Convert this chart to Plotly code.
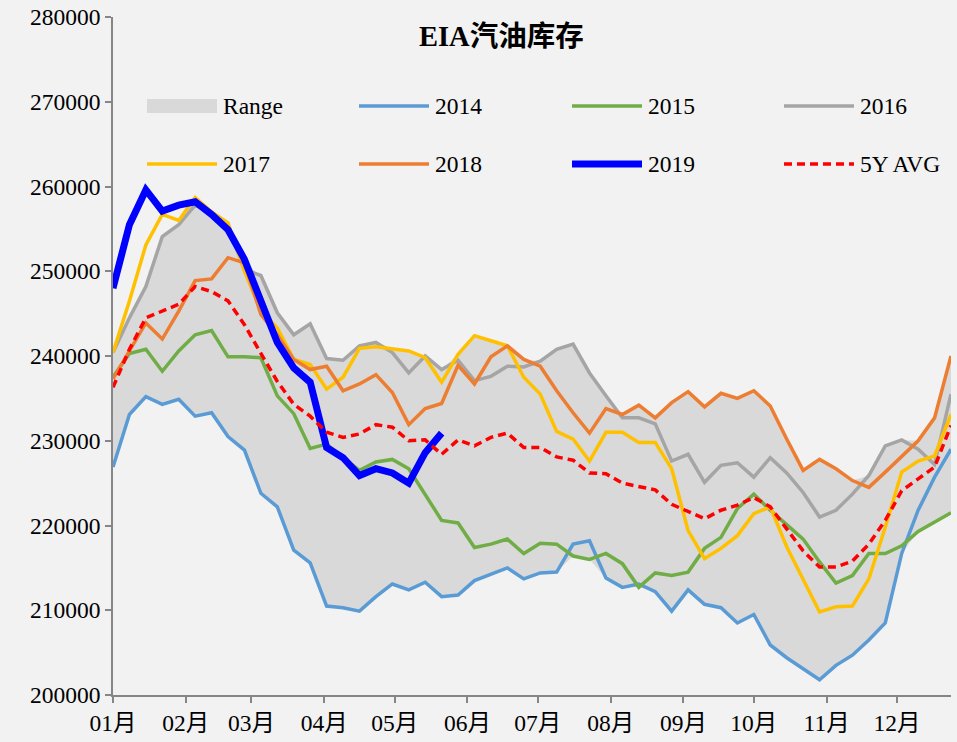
import plotly.graph_objects as go

week_dates = [
    "2019-01-01", "2019-01-08", "2019-01-15", "2019-01-22", "2019-01-29",
    "2019-02-05", "2019-02-12", "2019-02-19", "2019-02-26",
    "2019-03-05", "2019-03-12", "2019-03-19", "2019-03-26",
    "2019-04-02", "2019-04-09", "2019-04-16", "2019-04-23", "2019-04-30",
    "2019-05-07", "2019-05-14", "2019-05-21", "2019-05-28",
    "2019-06-04", "2019-06-11", "2019-06-18", "2019-06-25",
    "2019-07-02", "2019-07-09", "2019-07-16", "2019-07-23", "2019-07-30",
    "2019-08-06", "2019-08-13", "2019-08-20", "2019-08-27",
    "2019-09-03", "2019-09-10", "2019-09-17", "2019-09-24",
    "2019-10-01", "2019-10-08", "2019-10-15", "2019-10-22", "2019-10-29",
    "2019-11-05", "2019-11-12", "2019-11-19", "2019-11-26",
    "2019-12-03", "2019-12-10", "2019-12-17", "2019-12-24",
]

y2014 = [226.9, 233.1, 235.2, 234.3, 234.9, 232.9, 233.3, 230.5, 228.9, 223.8,
         222.2, 217.1, 215.6, 210.5, 210.3, 209.9, 211.6, 213.1, 212.4, 213.3,
         211.6, 211.8, 213.5, 214.3, 215.0, 213.7, 214.4, 214.5, 217.8, 218.2,
         213.8, 212.7, 213.1, 212.2, 209.9, 212.4, 210.7, 210.3, 208.5, 209.5,
         205.9, 204.4, 203.1, 201.8, 203.5, 204.7, 206.5, 208.5, 216.7, 221.8,
         225.7, 229.0]
y2015 = [237.5, 240.3, 240.8, 238.2, 240.6, 242.5, 243.0, 239.9, 239.9, 239.8,
         235.3, 233.2, 229.1, 229.6, 228.0, 226.5, 227.5, 227.8, 226.7, 223.7,
         220.6, 220.3, 217.4, 217.8, 218.4, 216.7, 217.9, 217.8, 216.4, 216.0,
         216.7, 215.5, 212.7, 214.4, 214.1, 214.5, 217.3, 218.6, 222.0, 223.7,
         221.8, 220.1, 218.4, 215.7, 213.2, 214.1, 216.7, 216.7, 217.6, 219.3,
         220.4, 221.5]
y2016 = [240.4, 244.5, 248.2, 254.1, 255.5, 257.8, 256.9, 255.3, 250.2, 249.5,
         245.1, 242.5, 243.8, 239.7, 239.5, 241.2, 241.6, 240.4, 238.0, 240.0,
         238.4, 239.5, 237.1, 237.6, 238.8, 238.7, 239.4, 240.8, 241.4, 238.0,
         235.3, 232.7, 232.7, 232.0, 227.6, 228.4, 225.1, 227.1, 227.4, 225.7,
         228.0, 226.2, 223.9, 221.0, 221.8, 223.7, 225.9, 229.4, 230.1, 229.0,
         227.2, 235.5]
y2017 = [240.4, 246.5, 253.1, 256.7, 256.0, 258.7, 257.0, 255.7, 250.0, 245.3,
         243.3, 239.6, 239.0, 236.1, 237.5, 240.9, 241.1, 240.9, 240.6, 239.8,
         236.9, 240.2, 242.4, 241.8, 241.2, 237.5, 235.5, 231.1, 230.2, 227.6,
         231.0, 231.0, 229.8, 229.8, 226.7, 219.4, 216.1, 217.3, 218.8, 221.4,
         222.2, 217.5, 213.7, 209.8, 210.4, 210.5, 213.7, 219.8, 226.3, 227.6,
         228.2, 233.1]
y2018 = [237.3, 240.6, 243.9, 242.0, 245.3, 248.9, 249.1, 251.6, 251.0, 244.9,
         242.5, 239.6, 238.4, 238.8, 235.9, 236.7, 237.8, 235.7, 231.9, 233.8,
         234.4, 238.9, 236.7, 239.9, 241.2, 239.6, 238.8, 235.9, 233.3, 230.9,
         233.8, 233.1, 234.2, 232.7, 234.5, 235.8, 234.0, 235.6, 235.0, 235.9,
         234.1, 230.2, 226.5, 227.8, 226.7, 225.3, 224.5, 226.3, 228.2, 230.0,
         232.7, 240.0]
y2019 = [248.0, 255.5, 259.6, 257.1, 257.8, 258.2, 256.7, 254.9, 251.4, 246.3,
         241.6, 238.6, 236.9, 229.2, 228.0, 225.9, 226.7, 226.2, 225.0, 228.6,
         230.9]
avg5y = [236.3, 240.8, 244.5, 245.3, 246.1, 248.2, 247.6, 246.5, 243.7, 240.3,
         237.0, 234.3, 232.9, 231.0, 230.4, 230.8, 231.9, 231.6, 230.0, 230.1,
         228.4, 230.1, 229.4, 230.4, 230.9, 229.2, 229.2, 228.1, 227.7, 226.2,
         226.1, 225.0, 224.6, 224.2, 222.5, 221.7, 220.8, 221.8, 222.4, 223.3,
         222.2, 219.6, 217.0, 215.1, 215.1, 215.8, 217.8, 220.6, 224.1, 225.5,
         226.9, 231.8]
range_low = [226.9, 233.1, 235.2, 234.3, 234.9, 232.9, 233.3, 230.5, 228.9, 223.8,
             222.2, 217.1, 215.6, 210.5, 210.3, 209.9, 211.6, 213.1, 212.4, 213.3,
             211.6, 211.8, 213.5, 214.3, 215.0, 213.7, 214.4, 214.5, 216.4, 216.0,
             213.8, 212.7, 212.7, 212.2, 209.9, 212.4, 210.7, 210.3, 208.5, 209.5,
             205.9, 204.4, 203.1, 201.8, 203.5, 204.7, 206.5, 208.5, 216.7, 219.3,
             220.4, 221.5]
range_high = [240.4, 244.5, 248.2, 254.1, 255.5, 258.7, 257.0, 255.7, 251.0, 249.5,
              245.1, 242.5, 243.8, 239.7, 239.5, 241.2, 241.6, 240.9, 240.6, 240.0,
              238.4, 240.2, 242.4, 241.8, 241.2, 239.6, 239.4, 240.8, 241.4, 238.0,
              235.3, 233.1, 234.2, 232.7, 234.5, 235.8, 234.0, 235.6, 235.0, 235.9,
              234.1, 230.2, 226.5, 227.8, 226.7, 225.3, 225.9, 229.4, 230.1, 230.0,
              232.7, 240.0]

y_ticks = [200000, 210000, 220000, 230000, 240000, 250000, 260000, 270000, 280000]


def k(vals):
    return [v * 1000 for v in vals]


SERIF = "Liberation Serif, Times New Roman, Noto Sans CJK SC, serif"

fig = go.Figure()
fig.add_trace(go.Scatter(x=week_dates, y=k(range_low), mode="lines",
                         line=dict(width=0, color="rgba(0,0,0,0)"),
                         showlegend=False, hoverinfo="skip"))
fig.add_trace(go.Scatter(x=week_dates, y=k(range_high), mode="lines", name="Range",
                         line=dict(width=0, color="#d9d9d9"),
                         fill="tonexty", fillcolor="#d9d9d9"))

series = [
    ("2014", y2014, "#5B9BD5", 3.5, "solid"),
    ("2015", y2015, "#70AD47", 3.5, "solid"),
    ("2016", y2016, "#A5A5A5", 3.5, "solid"),
    ("2017", y2017, "#FFC000", 3.5, "solid"),
    ("2018", y2018, "#ED7D31", 3.5, "solid"),
    ("2019", y2019, "#0000FF", 7, "solid"),
    ("5Y AVG", avg5y, "#FF0000", 3.5, "8px,5px"),
]
for name, vals, color, width, dash in series:
    fig.add_trace(go.Scatter(x=week_dates[:len(vals)], y=k(vals), mode="lines", name=name,
                             line=dict(color=color, width=width, dash=dash)))

# custom legend (pixel layout -> paper coords)
L, R, T, B = 113, 951, 17, 695
W, H = R - L, B - T


def px(x):
    return (x - L) / W


def py(y):
    return (B - y) / H


legend_items = [
    ("Range", None, 0, 106, 147),
    ("2014", "#5B9BD5", 3.5, 106, 359),
    ("2015", "#70AD47", 3.5, 106, 572),
    ("2016", "#A5A5A5", 3.5, 106, 784),
    ("2017", "#FFC000", 3.5, 164, 147),
    ("2018", "#ED7D31", 3.5, 164, 359),
    ("2019", "#0000FF", 7, 164, 572),
    ("5Y AVG", "#FF0000", 3.5, 164, 784),
]
shapes = []
annotations = []
for label, color, width, yy, x0 in legend_items:
    if color is None:
        shapes.append(dict(type="rect", xref="paper", yref="paper",
                           x0=px(x0), x1=px(x0 + 70), y0=py(yy + 7), y1=py(yy - 7),
                           fillcolor="#d9d9d9", line=dict(width=0)))
    else:
        shapes.append(dict(type="line", xref="paper", yref="paper",
                           x0=px(x0), x1=px(x0 + 70), y0=py(yy), y1=py(yy),
                           line=dict(color=color, width=width,
                                     dash="8px,5px" if label == "5Y AVG" else "solid")))
    annotations.append(dict(text=label, xref="paper", yref="paper",
                            x=px(x0 + 74), y=py(yy), xanchor="left", yanchor="middle",
                            showarrow=False, font=dict(family=SERIF, size=23.5, color="#000000")))

annotations.append(dict(text="<b>EIA汽油库存</b>", xref="paper", yref="paper",
                        x=px(501), y=py(37), xanchor="center", yanchor="middle",
                        showarrow=False, font=dict(family=SERIF, size=28.5, color="#000000")))

fig.update_layout(
    width=957, height=742,
    margin=dict(l=L, r=957 - R, t=T, b=742 - B, pad=0, autoexpand=False),
    paper_bgcolor="#f2f2f2", plot_bgcolor="#f2f2f2",
    showlegend=False,
    shapes=shapes, annotations=annotations,
    font=dict(family=SERIF, size=23.5, color="#000000"),
)
fig.update_xaxes(
    type="date", range=[week_dates[0], week_dates[-1]], automargin=False,
    tick0="2019-01-01", dtick="M1", tickformat="%m月",
    showgrid=False, zeroline=False,
    showline=True, linecolor="#868686", linewidth=1.5,
    ticks="outside", ticklen=6, tickcolor="#868686", tickwidth=1.5,
    tickfont=dict(family=SERIF, size=23.5, color="#000000"),
)
fig.update_yaxes(
    range=[200000, 280000], tickvals=y_ticks, tickformat="d", automargin=False,
    showgrid=False, zeroline=False,
    showline=True, linecolor="#868686", linewidth=1.5,
    ticks="outside", ticklen=6, tickcolor="#868686", tickwidth=1.5,
    tickfont=dict(family=SERIF, size=23.5, color="#000000"),
)

fig.write_html(
    "out.html",
    config={"displayModeBar": False},
    post_script="document.body.style.margin='0';document.body.style.background='#f2f2f2';",
)
